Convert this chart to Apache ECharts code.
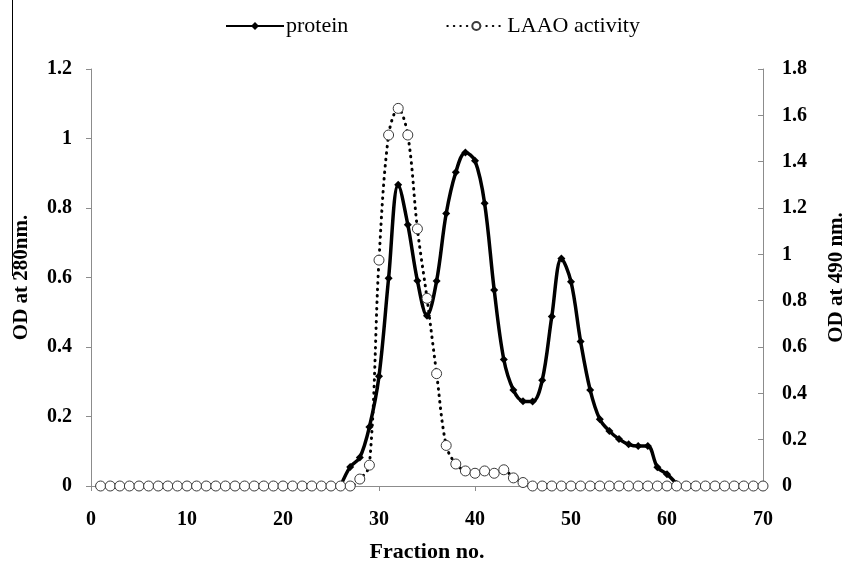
<!DOCTYPE html>
<html>
<head>
<meta charset="utf-8">
<script src="https://cdn.jsdelivr.net/npm/echarts@6/dist/echarts.min.js"></script>
<style>
  html, body { margin: 0; padding: 0; background: #fff; }
  #chart { width: 848px; height: 573px; }
</style>
</head>
<body>
<div id="chart"></div>
<script>
// protein, OD at 280 nm (left axis)
const proteinFractions = [26, 27, 28, 29, 30, 31, 32, 33, 34, 35, 36, 37, 38, 39, 40, 41, 42, 43,
  44, 45, 46, 47, 48, 49, 50, 51, 52, 53, 54, 55, 56, 57, 58, 59, 60, 61]
const proteinValues = [0, 0.055, 0.082, 0.17, 0.316, 0.598, 0.867, 0.752, 0.591, 0.49, 0.59, 0.784,
  0.903, 0.96, 0.936, 0.814, 0.564, 0.364, 0.276, 0.244, 0.243, 0.304, 0.488, 0.655, 0.588,
  0.416, 0.276, 0.192, 0.158, 0.135, 0.12, 0.115, 0.115, 0.054, 0.034, 0.006]

// LAAO activity, OD at 490 nm (right axis)
const laaoFractions = [1, 2, 3, 4, 5, 6, 7, 8, 9, 10, 11, 12, 13, 14, 15, 16, 17, 18, 19, 20,
  21, 22, 23, 24, 25, 26, 27, 28, 29, 30, 31, 32, 33, 34, 35, 36, 37, 38, 39, 40,
  41, 42, 43, 44, 45, 46, 47, 48, 49, 50, 51, 52, 53, 54, 55, 56, 57, 58, 59, 60,
  61, 62, 63, 64, 65, 66, 67, 68, 69, 70]
const laaoValues = [0, 0, 0, 0, 0, 0, 0, 0, 0, 0, 0, 0, 0, 0, 0, 0, 0, 0, 0, 0,
  0, 0, 0, 0, 0, 0, 0, 0.03, 0.09, 0.975, 1.515, 1.63, 1.515, 1.11, 0.81, 0.485, 0.175, 0.095, 0.065, 0.055,
  0.065, 0.055, 0.07, 0.035, 0.015, 0, 0, 0, 0, 0, 0, 0, 0, 0, 0, 0, 0, 0, 0, 0,
  0, 0, 0, 0, 0, 0, 0, 0, 0, 0]

const legendNames = ['protein', 'LAAO activity']
const axisNames = ['Fraction no.', 'OD at 280nm.', 'OD at 490 nm.']

const serif = '"Liberation Serif", "DejaVu Serif", serif'
const axisGray = '#8c8c8c'
const labelStyle = { fontFamily: serif, fontWeight: 'bold', fontSize: 20, color: '#000' }
const nameStyle = { fontFamily: serif, fontWeight: 'bold', fontSize: 21, color: '#000' }

const chart = echarts.init(document.getElementById('chart'))
chart.setOption({
  backgroundColor: '#fff',
  animation: false,
  legend: {
    data: legendNames,
    left: 220,
    top: 10,
    itemWidth: 58,
    itemHeight: 10,
    itemGap: 98,
    textStyle: { fontFamily: serif, fontSize: 22, color: '#000', padding: [0, 0, 0, -3] }
  },
  grid: { left: 91, right: 85, top: 69, bottom: 87, outerBoundsMode: 'none', containLabel: false },
  xAxis: {
    type: 'value',
    min: 0,
    max: 70,
    interval: 10,
    name: axisNames[0],
    nameLocation: 'middle',
    nameGap: 55,
    nameTextStyle: Object.assign({}, nameStyle, { fontSize: 22 }),
    axisLine: { lineStyle: { color: axisGray, width: 1 } },
    axisTick: { length: 5, lineStyle: { color: axisGray } },
    axisLabel: Object.assign({ margin: 24 }, labelStyle),
    splitLine: { show: false }
  },
  yAxis: [
    {
      type: 'value',
      min: 0,
      max: 1.2,
      interval: 0.2,
      position: 'left',
      name: axisNames[1],
      nameLocation: 'middle',
      nameRotate: 90,
      nameGap: 59,
      nameTextStyle: nameStyle,
      axisLine: { show: true, lineStyle: { color: axisGray, width: 1 } },
      axisTick: { show: true, length: 5, lineStyle: { color: axisGray } },
      axisLabel: Object.assign({ margin: 19, formatter: v => String(+v.toFixed(1)) }, labelStyle),
      splitLine: { show: false }
    },
    {
      type: 'value',
      min: 0,
      max: 1.8,
      interval: 0.2,
      position: 'right',
      name: axisNames[2],
      nameLocation: 'middle',
      nameRotate: 90,
      nameGap: 63,
      nameTextStyle: nameStyle,
      axisLine: { show: true, lineStyle: { color: axisGray, width: 1 } },
      axisTick: { show: true, inside: true, length: 5, lineStyle: { color: axisGray } },
      axisLabel: Object.assign({ margin: 19, formatter: v => String(+v.toFixed(1)) }, labelStyle),
      splitLine: { show: false }
    }
  ],
  series: [
    {
      name: legendNames[0],
      type: 'line',
      yAxisIndex: 0,
      smooth: 0.35,
      data: proteinFractions.map((f, i) => [f, proteinValues[i]]),
      symbol: 'diamond',
      symbolSize: 8,
      itemStyle: { color: '#000' },
      lineStyle: { color: '#000', width: 3.5 },
      z: 2
    },
    {
      name: legendNames[1],
      type: 'line',
      yAxisIndex: 1,
      smooth: 0.35,
      data: laaoFractions.map((f, i) => [f, laaoValues[i]]),
      symbol: 'circle',
      symbolSize: 10,
      itemStyle: { color: '#fff', borderColor: '#3a3a3a', borderWidth: 1 },
      lineStyle: { color: '#000', width: 3, type: [0.5, 6], cap: 'round' },
      z: 3
    }
  ],
  graphic: [
    {
      type: 'line',
      shape: { x1: 12.5, y1: 0, x2: 12.5, y2: 276 },
      style: { stroke: '#000', lineWidth: 1 }
    }
  ]
})
</script>
</body>
</html>
